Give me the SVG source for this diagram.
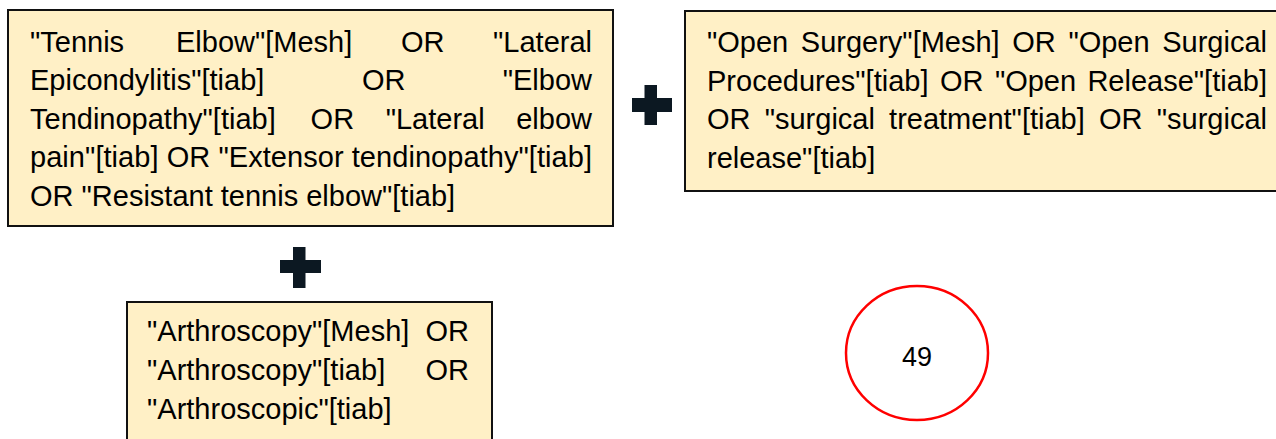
<svg xmlns="http://www.w3.org/2000/svg" width="1276" height="439" viewBox="0 0 1276 439">
<style>
.box{fill:#FFF0C6;stroke:#111;stroke-width:2}
.t{font-family:"Liberation Sans",Arial,sans-serif;font-size:29px;fill:#000}
.e{text-anchor:end}
.plus{fill:#0c1822}
.circ{fill:none;stroke:#FF0000;stroke-width:2.5}
.num{font-family:"Liberation Sans",Arial,sans-serif;font-size:27px;fill:#000;text-anchor:middle}
</style>
<rect width="1276" height="439" fill="#fff"/>
<g id="connectors"></g>
<g id="node-tennis-elbow">
<rect class="box" x="8" y="10" width="605" height="216"/>
<text class="t" y="52"><tspan x="30">"Tennis</tspan><tspan x="176">Elbow"[Mesh]</tspan><tspan x="401">OR</tspan><tspan class="e" x="592" text-anchor="end">"Lateral</tspan></text>
<text class="t" y="90"><tspan x="30">Epicondylitis"[tiab]</tspan><tspan x="362">OR</tspan></text>
<text class="t e" x="592" y="90">"Elbow</text>
<text class="t" y="128.5"><tspan x="30">Tendinopathy"[tiab]</tspan><tspan x="310.6">OR</tspan><tspan x="385.7">"Lateral</tspan></text>
<text class="t e" x="592" y="128.5">elbow</text>
<text class="t" x="30" y="167" textLength="562" lengthAdjust="spacing">pain"[tiab] OR "Extensor tendinopathy"[tiab]</text>
<text class="t" x="30" y="206">OR "Resistant tennis elbow"[tiab]</text>
</g>
<g id="plus-1">
<rect class="plus" x="632" y="98" width="40" height="14"/>
<rect class="plus" x="644.5" y="85" width="12.5" height="40"/>
</g>
<g id="node-open-surgery">
<rect class="box" x="685" y="11" width="600" height="180"/>
<text class="t" y="52"><tspan x="707">"Open</tspan><tspan x="800.8">Surgery"[Mesh]</tspan><tspan x="1012.3">OR</tspan><tspan x="1068.4">"Open</tspan></text>
<text class="t e" x="1267" y="52">Surgical</text>
<text class="t" y="90.5"><tspan x="707">Procedures"[tiab]</tspan><tspan x="939.9">OR</tspan><tspan x="994.9">"Open</tspan></text>
<text class="t e" x="1267" y="90.5">Release"[tiab]</text>
<text class="t" y="129"><tspan x="707">OR</tspan><tspan x="764.7">"surgical</tspan><tspan x="889.1">treatment"[tiab]</tspan><tspan x="1099">OR</tspan></text>
<text class="t e" x="1267" y="129">"surgical</text>
<text class="t" x="707" y="167.5">release"[tiab]</text>
</g>
<g id="plus-2">
<rect class="plus" x="280" y="260" width="41" height="13"/>
<rect class="plus" x="293" y="247" width="12.5" height="41"/>
</g>
<g id="node-arthroscopy">
<rect class="box" x="127" y="302" width="365" height="150"/>
<text class="t" x="147" y="341">"Arthroscopy"[Mesh]</text>
<text class="t e" x="469" y="341">OR</text>
<text class="t" x="147" y="380">"Arthroscopy"[tiab]</text>
<text class="t e" x="469" y="380">OR</text>
<text class="t" x="147" y="419">"Arthroscopic"[tiab]</text>
</g>
<g id="node-count">
<ellipse class="circ" cx="917" cy="353" rx="71" ry="67"/>
<text class="num" x="917" y="366">49</text>
</g>
</svg>
